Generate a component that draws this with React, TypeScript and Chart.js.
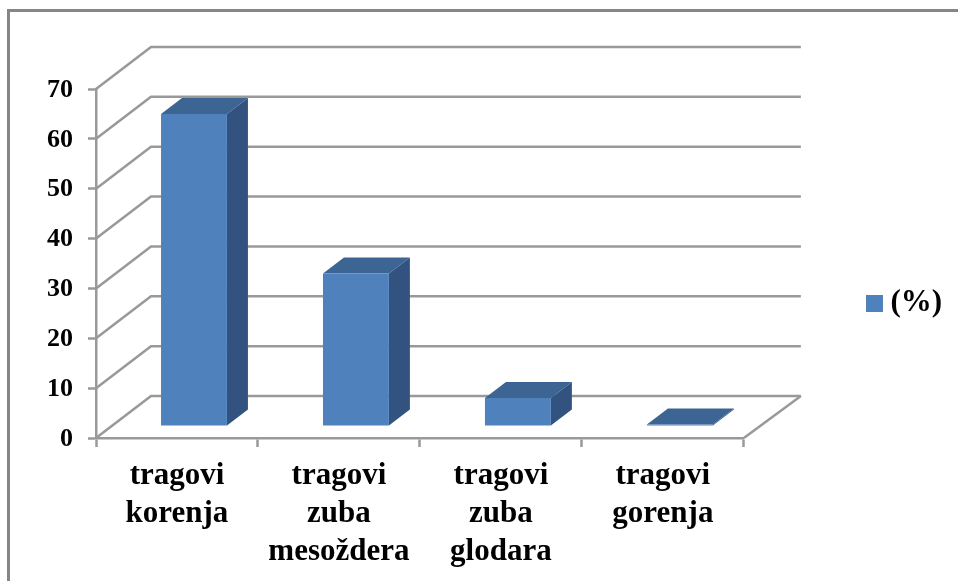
import React, { useEffect, useRef } from "react";
import { Chart, registerables } from "chart.js";

Chart.register(...registerables);

const categories = [
  ["tragovi", "korenja"],
  ["tragovi", "zuba", "mesoždera"],
  ["tragovi", "zuba", "glodara"],
  ["tragovi", "gorenja"],
];
const seriesName = "(%)";
const seriesValues = [62.6, 30.6, 5.6, 0.3];

const GRAY = "#999999";
const FRONT = "#4F81BD";
const TOP = "#3D6594";
const SIDE = "#32537F";
const FONT = "'Liberation Serif', 'Times New Roman', serif";

// projection offsets of the 3D frame
const WALL_DX = 55;
const WALL_DY = -42;
const BAR_SHIFT_X = 17;
const BAR_SHIFT_Y = -12;
const BAR_DX = 21;
const BAR_DY = -16;

const poly = (ctx: CanvasRenderingContext2D, pts: number[][], fill: string) => {
  ctx.beginPath();
  pts.forEach(([x, y], i) => (i ? ctx.lineTo(x, y) : ctx.moveTo(x, y)));
  ctx.closePath();
  ctx.fillStyle = fill;
  ctx.fill();
};

const frame3d = {
  id: "frame3d",
  afterLayout(chart: any) {
    const lg = chart.legend;
    if (!lg) return;
    const w = lg.right - lg.left;
    lg.left = 866 + 8 - lg.options.labels.padding;
    lg.right = lg.left + w;
    lg.top -= 32;
    lg.bottom -= 32;
  },
  beforeDraw(chart: any) {
    const { ctx, width, height } = chart;
    ctx.save();
    ctx.fillStyle = "#ffffff";
    ctx.fillRect(0, 0, width, height);
    ctx.strokeStyle = "#868686";
    ctx.lineWidth = 3;
    ctx.beginPath();
    ctx.moveTo(8.5, height);
    ctx.lineTo(8.5, 10.5);
    ctx.lineTo(width, 10.5);
    ctx.stroke();
    ctx.restore();
  },
  beforeDatasetsDraw(chart: any) {
    const { ctx, chartArea } = chart;
    const y = chart.scales.y;
    const { left, right, bottom } = chartArea;
    ctx.save();
    ctx.strokeStyle = GRAY;
    ctx.lineWidth = 2.5;
    y.ticks.forEach((t: any) => {
      const py = y.getPixelForValue(t.value);
      ctx.beginPath();
      ctx.moveTo(left, py);
      ctx.lineTo(left + WALL_DX, py + WALL_DY);
      ctx.lineTo(right + WALL_DX + 2, py + WALL_DY);
      ctx.stroke();
    });
    ctx.beginPath();
    ctx.moveTo(right, bottom);
    ctx.lineTo(right + WALL_DX + 2, bottom + WALL_DY);
    ctx.stroke();
    ctx.restore();
  },
  beforeDatasetDraw(chart: any, args: any) {
    const { ctx } = chart;
    ctx.save();
    ctx.translate(BAR_SHIFT_X, BAR_SHIFT_Y);
    args.meta.data.forEach((bar: any) => {
      const { x, y, base, width } = bar.getProps(["x", "y", "base", "width"], true);
      const l = x - width / 2;
      const r = x + width / 2;
      poly(ctx, [[l, y], [l + BAR_DX, y + BAR_DY], [r + BAR_DX, y + BAR_DY], [r, y]], TOP);
      poly(ctx, [[r, y], [r + BAR_DX, y + BAR_DY], [r + BAR_DX, base + BAR_DY], [r, base]], SIDE);
    });
  },
  afterDatasetDraw(chart: any) {
    chart.ctx.restore();
  },
};

export default function App() {
  const ref = useRef<HTMLCanvasElement>(null);
  useEffect(() => {
    const swatch = document.createElement("canvas");
    swatch.width = 17;
    swatch.height = 17;
    const sc = swatch.getContext("2d")!;
    sc.fillStyle = FRONT;
    sc.fillRect(0, 0, 17, 17);

    const chart = new Chart(ref.current!, {
      type: "bar",
      data: {
        labels: categories,
        datasets: [
          {
            label: seriesName,
            data: seriesValues,
            backgroundColor: FRONT,
            borderWidth: 0,
            barPercentage: 0.407,
            categoryPercentage: 1,
            clip: false,
          } as any,
        ],
      },
      plugins: [frame3d],
      options: {
        responsive: false,
        animation: false,
        layout: { padding: { top: 89, left: 0, bottom: 0, right: 126 } },
        plugins: {
          tooltip: { enabled: false },
          legend: {
            position: "right",
            labels: {
              usePointStyle: true,
              pointStyle: swatch,
              pointStyleWidth: 1,
              boxHeight: 17,
              padding: 10,
              color: "#000000",
              font: { family: FONT, size: 31, weight: "bold" },
            },
          },
        },
        scales: {
          x: {
            afterFit(axis: any) {
              axis.height = 143;
            },
            grid: { drawOnChartArea: false, drawTicks: true, tickLength: 9, tickWidth: 2.5, tickColor: GRAY },
            border: { color: GRAY, width: 2.5 },
            ticks: {
              autoSkip: false,
              maxRotation: 0,
              minRotation: 0,
              padding: 10,
              color: "#000000",
              font: { family: FONT, size: 31, weight: "bold", lineHeight: 1.23 },
            },
          },
          y: {
            min: 0,
            max: 70,
            afterFit(axis: any) {
              axis.width = 96;
            },
            grid: { drawOnChartArea: false, drawTicks: true, tickLength: 8, tickWidth: 2.5, tickColor: GRAY },
            border: { color: GRAY, width: 2.5 },
            ticks: {
              stepSize: 10,
              padding: 15,
              labelOffset: 1,
              color: "#000000",
              font: { family: FONT, size: 26, weight: "bold" },
            },
          },
        },
      } as any,
    });
    return () => chart.destroy();
  }, []);
  return (
    <div style={{ position: "fixed", left: 0, top: 0, width: 958, height: 581, background: "#fff", overflow: "hidden" }}>
      <canvas ref={ref} width={958} height={581} style={{ display: "block" }} />
    </div>
  );
}
